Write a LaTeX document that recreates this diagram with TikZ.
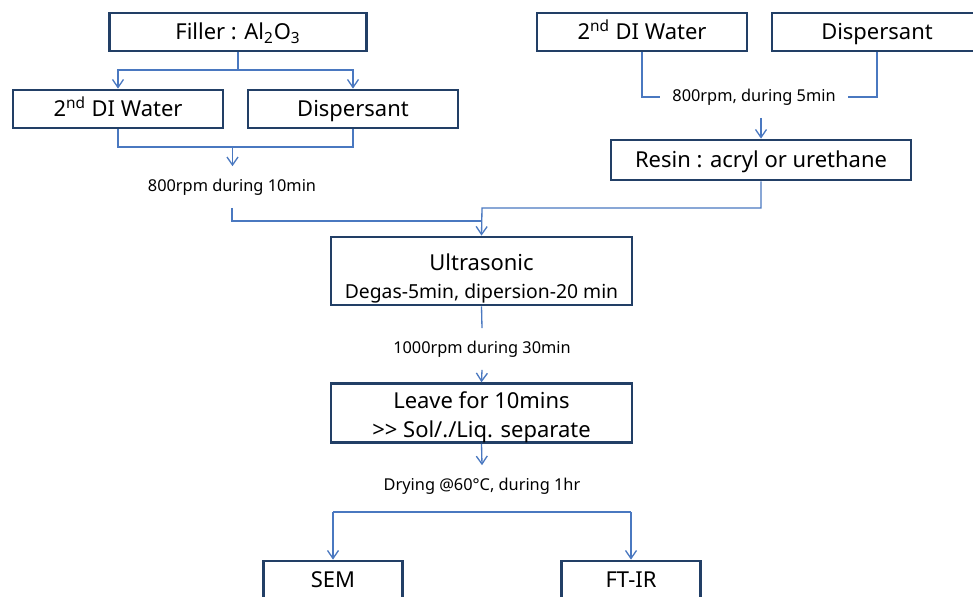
\documentclass[tikz,border=0pt]{standalone}
\usepackage{fontspec}
\setmainfont{Noto Sans}
\usetikzlibrary{arrows.meta,positioning}
\definecolor{boxnavy}{HTML}{223F66}
\definecolor{linkblue}{HTML}{4A78C0}
\begin{document}
\begin{tikzpicture}[x=0.02cm,y=-0.02cm,
  stepbox/.style={draw=boxnavy,line width=1.6pt,fill=white,inner sep=0pt,align=center,font=\fontsize{12.5}{16.4}\selectfont},
  onebox/.style={stepbox,text height=1em,text depth=0.18em},
  lbl/.style={inner sep=7pt,font=\fontsize{9.3}{11}\selectfont},
  conn/.style={draw=linkblue,line width=0.75pt},
  arr/.style={conn,-{Straight Barb[length=1.6mm,width=2.2mm]}}]
\clip (0,0) rectangle (973,596);
\node[onebox,minimum width=5.14cm,minimum height=0.76cm] (filler) at (238,32) {Filler : Al\textsubscript{2}O\textsubscript{3}};
\node[onebox,minimum width=4.2cm,minimum height=0.76cm] (waterL) at (118,109) {2\textsuperscript{nd} DI Water};
\node[onebox,minimum width=4.2cm,minimum height=0.76cm] (dispL) at (353,109) {Dispersant};
\node[onebox,minimum width=4.2cm,minimum height=0.76cm] (waterR) at (642,32) {2\textsuperscript{nd} DI Water};
\node[onebox,minimum width=4.2cm,minimum height=0.76cm] (dispR) at (877,32) {Dispersant};
\node[onebox,minimum width=6cm,minimum height=0.8cm] (resin) at (761,160) {Resin : acryl or urethane};
\node[stepbox,minimum width=6.02cm,minimum height=1.36cm] (ultra) at (481.5,271) {\rule{0pt}{18pt}Ultrasonic\\{\fontsize{11}{14}\selectfont Degas-5min, dipersion-20 min}};
\node[stepbox,minimum width=6.02cm,minimum height=1.16cm] (leave) at (481.5,413) {\rule{0pt}{14pt}Leave for 10mins\\{>}{>} Sol/./Liq. separate};
\node[onebox,minimum width=2.78cm,minimum height=0.76cm] (sem) at (333,580) {SEM};
\node[onebox,minimum width=2.78cm,minimum height=0.76cm] (ftir) at (631,580) {FT-IR};

\node[lbl] (rpmA) at (232,187) {800rpm during 10min};
\node[lbl] (rpmB) at (754,97) {800rpm, during 5min};
\node[lbl] (rpmC) at (482,349) {1000rpm during 30min};
\node[lbl] (dry) at (482,486) {Drying @60°C, during 1hr};

\coordinate (jF) at (238,70);
\coordinate (jA) at (232.5,147);
\coordinate (jU) at (482,208);
\coordinate (jL) at (482,221);
\coordinate (jD) at (482,512);

\draw[conn] (filler.south) -- (jF);
\draw[arr] (jF) -| (waterL.north);
\draw[arr] (jF) -| (dispL.north);
\draw[conn] (waterL.south) |- (jA) -| (dispL.south);
\draw[arr] (jA) -- (rpmA.north -| jA);
\draw[conn] (waterR.south) |- (rpmB.west);
\draw[conn] (dispR.south) |- (rpmB.east);
\draw[arr] (rpmB.south -| resin.north) -- (resin.north);
\draw[conn] (rpmA.south) |- (jL);
\draw[arr] (resin.south) |- (jU) -- (ultra.north);
\draw[conn] (ultra.south) -- (rpmC.north);
\draw[arr] (rpmC.south) -- (leave.north);
\draw[arr] (leave.south) -- (dry.north);
\draw[arr] (jD -| sem.north) -| (sem.north);
\draw[conn] (jD -| sem.north) -- (jD -| ftir.north);
\draw[arr] (jD -| ftir.north) -- (ftir.north);
\end{tikzpicture}
\end{document}
